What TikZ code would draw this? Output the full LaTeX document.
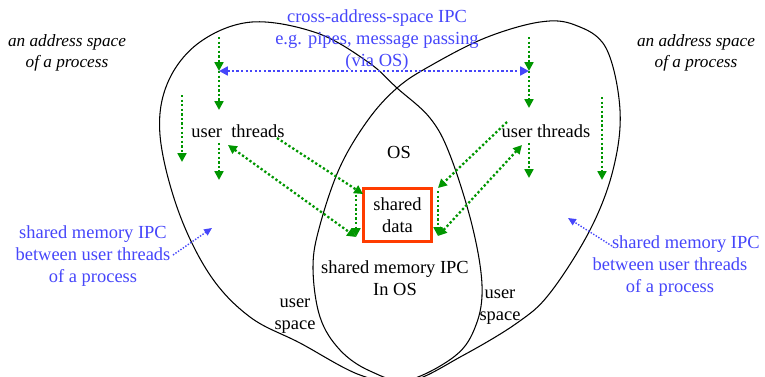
\documentclass[tikz,border=0pt]{standalone}
\usepackage{fontspec}
\setmainfont{Liberation Serif}
\usetikzlibrary{arrows.meta}
\definecolor{ipcblue}{RGB}{70,70,250}
\definecolor{thrgreen}{RGB}{0,150,0}
\definecolor{boxred}{RGB}{255,60,0}
\tikzset{
  lbl/.style={align=center,inner sep=0pt,font=\fontsize{10.5}{12.5}\selectfont},
  spacelbl/.style={lbl,font=\fontsize{9.8}{12}\selectfont\itshape},
  bluelbl/.style={lbl,text=ipcblue},
  flow/.style={thrgreen,line width=1.3pt,dash pattern=on 1.3pt off 1.3pt,
    -{Triangle[length=5pt,width=5pt]}},
  flowboth/.style={flow,{Triangle[length=5pt,width=5pt]}-{Triangle[length=5pt,width=5pt]}},
  ipcline/.style={ipcblue,line width=1.3pt,dash pattern=on 1.3pt off 1.3pt,
    {Triangle[length=5pt,width=5pt]}-{Triangle[length=5pt,width=5pt]}},
  hint/.style={ipcblue,line width=0.8pt,dash pattern=on 0.8pt off 0.9pt,
    -{Triangle[length=4.5pt,width=4pt]}},
  egg/.style={line width=0.6pt}
}
\begin{document}
\begin{tikzpicture}[x=0.02cm,y=-0.02cm]
\useasboundingbox (0,0) rectangle (765,376);
% the two address spaces
\begin{scope}
\clip (0,0) rectangle (765,376);
\draw[egg] plot[smooth cycle,tension=0.6] coordinates {
  (405,381) (360,375) (300,343) (250,317) (210,275) (178,210) (160,135)
  (168,82) (200,42) (252,22) (317,33) (368,62) (397,88) (430,118)
  (450,155) (472,225) (482,285) (476,325) (455,356)};
\draw[egg] plot[smooth cycle,tension=0.6] coordinates {
  (410,381) (462,356) (517,323) (550,293) (590,230) (613,170) (620,110)
  (606,48) (575,25) (540,22) (485,38) (430,66) (397,88) (368,120)
  (340,167) (320,225) (313,267) (320,317) (340,350) (370,371)};
\end{scope}

% texts
\node[spacelbl] (lspace) at (67,53) {an address space\\of a process};
\node[spacelbl] (rspace) at (696,53) {an address space\\of a process};
\node[bluelbl] (cross) at (377,40) {cross-address-space IPC\\e.g. pipes, message passing\\(via OS)};
\node[lbl] (lthr) at (238,131) {user\ \ threads};
\node[lbl] (rthr) at (546,131) {user threads};
\node[lbl] (os) at (399,152) {OS};
\node[lbl,draw=boxred,line width=1.7pt,minimum width=39pt,minimum height=30.6pt] (data) at (397.5,215) {shared\\data};
\node[lbl] (osipc) at (395,278) {shared memory IPC\\In OS};
\node[lbl] (luser) at (295,316) {user\\space};
\node[lbl] (ruser) at (500,307) {user\\space};
\node[bluelbl] (lshm) at (93,256) {shared memory IPC\\between user threads\\of a process};
\node[bluelbl] (rshm) at (670,266) {\hspace*{18pt}shared memory IPC\\between user threads\\of a process};

% thread columns
\coordinate (la0) at (219,37);  \coordinate (la1) at (219,71);
\coordinate (la2) at (219,110); \coordinate (la3) at (219,143);
\coordinate (la4) at (219,180); \coordinate (lb0) at (182,95);
\coordinate (lb1) at (182,162);
\coordinate (ra0) at (529,37);  \coordinate (ra1) at (529,71);
\coordinate (ra2) at (529,108); \coordinate (ra3) at (529,143);
\coordinate (ra4) at (529,178); \coordinate (rb0) at (602,97);
\coordinate (rb1) at (602,180);
\draw[flow] (la0) -- (la1);
\draw[flow] (la1) -- (la2);
\draw[flow] (la3) -- (la4);
\draw[flow] (lb0) -- (lb1);
\draw[flow] (ra0) -- (ra1);
\draw[flow] (ra1) -- (ra2);
\draw[flow] (ra3) -- (ra4);
\draw[flow] (rb0) -- (rb1);

% threads to the shared data
\coordinate (lt0) at (277,138); \coordinate (lt1) at (228,145);
\coordinate (ld0) at (363,194); \coordinate (ld1) at (356,190);
\coordinate (ld2) at (356,237);
\coordinate (rt0) at (507,122); \coordinate (rt1) at (522,145);
\coordinate (rd0) at (438,188); \coordinate (rd1) at (438,191);
\coordinate (rd2) at (438,236);
\draw[flow] (lt0) -- (ld0);
\draw[flowboth] (lt1) -- (ld2);
\draw[flow] (ld1) -- (ld2);
\draw[flow] (rt0) -- (rd0);
\draw[flowboth] (rt1) -- (rd2);
\draw[flow] (rd1) -- (rd2);

% IPC between processes and within a process
\draw[ipcline] (la1) -- (ra1);
\coordinate (lh0) at (173,255); \coordinate (lh1) at (212,228);
\coordinate (rh0) at (612,246); \coordinate (rh1) at (568,218);
\draw[hint] (lh0) -- (lh1);
\draw[hint] (rh0) -- (rh1);
\end{tikzpicture}
\end{document}
